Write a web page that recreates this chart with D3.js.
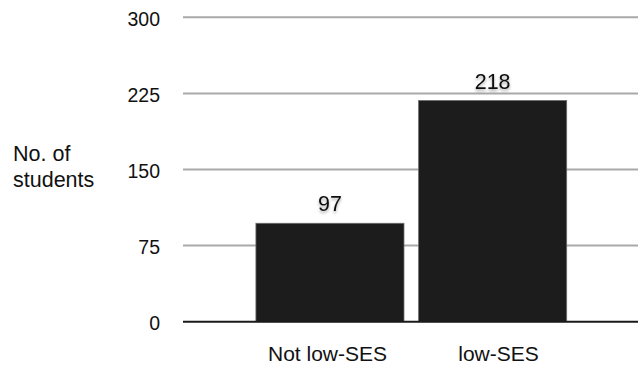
<!DOCTYPE html>
<html>
<head>
<meta charset="utf-8">
<script src="https://cdn.jsdelivr.net/npm/d3@7"></script>
<style>
  html, body { margin: 0; padding: 0; background: #fff; }
  svg { display: block; }
  text { font-family: "Liberation Sans", Arial, Helvetica, sans-serif; fill: #111; }
</style>
</head>
<body>
<svg id="chart" width="638" height="372"></svg>
<script>
// Number of students by socio-economic status
const categories = ["Not low-SES", "low-SES"];
const counts = [97, 218];
const yTicks = [0, 75, 150, 225, 300];
const yLabelLines = ["No. of", "students"];

const svg = d3.select("#chart");

const plotLeft = 183, plotRight = 638;
const y = d3.scaleLinear().domain([0, 300]).range([321.7, 17.3]);
const x = d3.scaleBand()
  .domain(categories)
  .range([248.6, 574])
  .paddingInner(0.09)
  .paddingOuter(0.045);
// category label anchors along the bottom
const xLabel = d3.scalePoint().domain(categories).range([327, 498]);

// soft shadow behind the value labels
const defs = svg.append("defs");
const f = defs.append("filter").attr("id", "lblShadow")
  .attr("x", "-30%").attr("y", "-30%").attr("width", "160%").attr("height", "180%");
f.append("feDropShadow")
  .attr("dx", 0).attr("dy", 2).attr("stdDeviation", 1.4)
  .attr("flood-color", "#000").attr("flood-opacity", 0.35);

// horizontal gridlines (all but zero)
svg.append("g")
  .selectAll("line")
  .data(yTicks.filter(d => d !== 0))
  .join("line")
  .attr("x1", plotLeft).attr("x2", plotRight)
  .attr("y1", d => y(d)).attr("y2", d => y(d))
  .attr("stroke", "#a9a9a9")
  .attr("stroke-width", 2);

// y tick labels
const yAxis = d3.axisLeft(y).tickValues(yTicks).tickSize(0).tickPadding(0);
const yg = svg.append("g")
  .attr("transform", "translate(160,1.5)")
  .call(yAxis);
yg.select(".domain").remove();
yg.selectAll("text")
  .attr("font-size", 19.5)
  .attr("font-family", "'Liberation Sans', Arial, sans-serif")
  .attr("fill", "#111");

// bars
svg.append("g")
  .selectAll("rect")
  .data(categories)
  .join("rect")
  .attr("x", d => x(d))
  .attr("width", x.bandwidth())
  .attr("y", (d, i) => y(counts[i]))
  .attr("height", (d, i) => y(0) - y(counts[i]))
  .attr("fill", "#1c1c1c")
  .attr("stroke", "#6a6a6a")
  .attr("stroke-width", 0.8);

// baseline
svg.append("line")
  .attr("x1", plotLeft).attr("x2", plotRight)
  .attr("y1", y(0)).attr("y2", y(0))
  .attr("stroke", "#1a1a1a")
  .attr("stroke-width", 2);

// value labels
svg.append("g")
  .selectAll("text")
  .data(categories)
  .join("text")
  .attr("x", d => x(d) + x.bandwidth() / 2)
  .attr("y", (d, i) => y(counts[i]) - 12)
  .attr("text-anchor", "middle")
  .attr("font-size", 21.5)
  .attr("filter", "url(#lblShadow)")
  .text((d, i) => counts[i]);

// category labels
const xAxis = d3.axisBottom(xLabel).tickSize(0).tickPadding(0);
const xg = svg.append("g").call(xAxis);
xg.select(".domain").remove();
xg.selectAll("text")
  .attr("y", 360.5)
  .attr("dy", null)
  .attr("font-size", 21)
  .attr("font-family", "'Liberation Sans', Arial, sans-serif")
  .attr("fill", "#111");

// y axis title
svg.append("text")
  .attr("x", 13)
  .attr("y", 160.7)
  .attr("font-size", 21.5)
  .selectAll("tspan")
  .data(yLabelLines)
  .join("tspan")
  .attr("x", 13)
  .attr("dy", (d, i) => i === 0 ? 0 : 26.6)
  .text(d => d);
</script>
</body>
</html>
